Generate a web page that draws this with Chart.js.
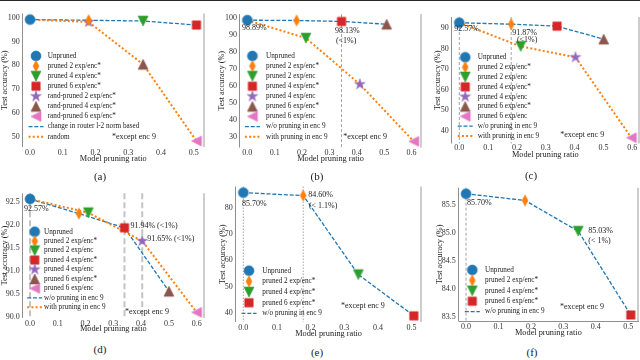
<!DOCTYPE html>
<html>
<head>
<meta charset="utf-8">
<script src="https://cdn.jsdelivr.net/npm/chart.js@4.4.1/dist/chart.umd.min.js"></script>
<style>
  html, body { margin: 0; padding: 0; background: #fff; }
  body { width: 640px; height: 360px; position: relative; overflow: hidden; font-family: "Liberation Serif", serif; }
  canvas { position: absolute; }
  .cap { position: absolute; font-size: 11px; color: #222; transform: translate(-50%, -50%); white-space: nowrap; }
  #topline { position: absolute; left: 0; top: 0; width: 640px; height: 1px; background: #2a2a2a; }
</style>
</head>
<body>
<div id="topline"></div>
<canvas id="pa"></canvas>
<canvas id="pb"></canvas>
<canvas id="pc"></canvas>
<canvas id="pd"></canvas>
<canvas id="pe"></canvas>
<canvas id="pf"></canvas>
<div class="cap" style="left:100px;top:176px">(a)</div>
<div class="cap" style="left:317px;top:176px">(b)</div>
<div class="cap" style="left:531px;top:175px">(c)</div>
<div class="cap" style="left:100px;top:349px">(d)</div>
<div class="cap" style="left:317px;top:352px">(e)</div>
<div class="cap" style="left:532px;top:352px">(f)</div>
<script>
// (a) router-norm pruning vs random pruning
const aRatio = [0, 0.179, 0.345, 0.508];
const aRouterAcc = [99.2, 98.9, 98.6, 96.9];
const aRandAcc = [99.2, 98.2, 80.4, 48.2];
const aXTicks = [0, 0.1, 0.2, 0.3, 0.4, 0.5];
const aYTicks = [50, 60, 70, 80, 90, 100];

// (b)
const bRatioKeep = [0, 0.18, 0.344, 0.509];
const bAccKeep = [98.89, 98.7, 98.13, 96.5];
const bRatioPrune = [0, 0.214, 0.411, 0.608];
const bAccPrune = [98.89, 88.3, 61.0, 27.2];
const bXTicks = [0, 0.1, 0.2, 0.3, 0.4, 0.5, 0.6];
const bYTicks = [30, 40, 50, 60, 70, 80, 90, 100];

// (c)
const cRatioKeep = [0, 0.18, 0.339, 0.501];
const cAccKeep = [92.57, 91.87, 90.9, 84.6];
const cRatioPrune = [0, 0.213, 0.403, 0.597];
const cAccPrune = [92.57, 81.1, 75.8, 36.7];
const cXTicks = [0, 0.1, 0.2, 0.3, 0.4, 0.5, 0.6];
const cYTicks = [40, 50, 60, 70, 80, 90];

// (d)
const dRatioKeep = [0, 0.176, 0.34, 0.50];
const dAccKeep = [92.57, 92.25, 91.94, 90.55];
const dRatioPrune = [0, 0.21, 0.404, 0.60];
const dAccPrune = [92.57, 92.27, 91.65, 90.09];
const dXTicks = [0, 0.1, 0.2, 0.3, 0.4, 0.5, 0.6];
const dYTicks = [90.0, 90.5, 91.0, 91.5, 92.0, 92.5];

// (e)
const eRatio = [0, 0.178, 0.342, 0.507];
const eAcc = [85.70, 84.60, 54.5, 38.8];
const eXTicks = [0, 0.1, 0.2, 0.3, 0.4, 0.5];
const eYTicks = [40, 50, 60, 70, 80];

// (f)
const fRatio = [0, 0.182, 0.346, 0.508];
const fAcc = [85.70, 85.58, 85.03, 83.53];
const fXTicks = [0, 0.1, 0.2, 0.3, 0.4, 0.5];
const fYTicks = [83.5, 84.0, 84.5, 85.0, 85.5];

const FONT = '"Liberation Serif", "Times New Roman", serif';
const C = { blue: '#1f77b4', orange: '#ff7f0e', green: '#2ca02c', red: '#d62728', purple: '#9467bd', brown: '#8c564b', pink: '#e377c2' };
const LS = {
  dash: { color: C.blue, width: 1.3, dash: [4, 1.8] },
  dot: { color: C.orange, width: 2, dash: [2, 2.2] }
};
const VL = {
  thin: { color: '#9a9a9a', width: 0.9, dash: [3, 2] },
  thick: { color: '#c4c4c4', width: 2, dash: [6, 3] },
  dotted: { color: '#9a9a9a', width: 0.9, dash: [1.5, 1.5] }
};

const markerCache = {};
function mk(shape, color) {
  const key = shape + color;
  if (markerCache[key]) return markerCache[key];
  const n = 14, cv = document.createElement('canvas');
  cv.width = n; cv.height = n;
  const g = cv.getContext('2d');
  g.translate(n / 2, n / 2);
  g.fillStyle = color; g.strokeStyle = color; g.lineWidth = 0.6;
  const r = 5;
  g.beginPath();
  if (shape === 'o') g.arc(0, 0, r, 0, 2 * Math.PI);
  else if (shape === 'd') { g.moveTo(0, -r - 0.6); g.lineTo(r * 0.6, 0); g.lineTo(0, r + 0.6); g.lineTo(-r * 0.6, 0); }
  else if (shape === 'v') { g.moveTo(-r, -r); g.lineTo(r, -r); g.lineTo(0, r); }
  else if (shape === '^') { g.moveTo(-r, r); g.lineTo(r, r); g.lineTo(0, -r); }
  else if (shape === '<') { g.moveTo(r, -r); g.lineTo(r, r); g.lineTo(-r, 0); }
  else if (shape === 's') g.rect(-4.2, -4.2, 8.4, 8.4);
  else if (shape === '*') {
    for (let k = 0; k < 10; k++) {
      const rr = k % 2 ? r * 0.42 : r + 0.6;
      const ang = -Math.PI / 2 + k * Math.PI / 5;
      g.lineTo(rr * Math.cos(ang), rr * Math.sin(ang));
    }
  }
  g.closePath(); g.fill(); g.stroke();
  markerCache[key] = cv;
  return cv;
}

function padRange(vals) {
  const lo = Math.min(...vals), hi = Math.max(...vals), m = (hi - lo) * 0.05;
  return [lo - m, hi + m];
}

const decor = {
  id: 'decor',
  beforeDatasetsDraw(chart) {
    const o = chart.options.plugins.decor, a = chart.chartArea, g = chart.ctx, xs = chart.scales.x;
    g.save();
    o.vlines.forEach(v => {
      const st = VL[v.style], px = xs.getPixelForValue(v.x);
      g.strokeStyle = st.color; g.lineWidth = st.width; g.setLineDash(st.dash);
      g.beginPath(); g.moveTo(px, a.top); g.lineTo(px, a.bottom); g.stroke();
    });
    g.setLineDash([]);
    const lx = Math.round(a.left) + 0.5;
    g.strokeStyle = '#8f8f8f'; g.lineWidth = 1;
    g.beginPath(); g.moveTo(lx, a.top); g.lineTo(lx, a.bottom); g.stroke();
    if (o.bottomSpine) {
      const by = Math.round(a.bottom) + 0.5;
      g.beginPath(); g.moveTo(lx, by); g.lineTo(a.right, by); g.stroke();
    }
    g.strokeStyle = '#cdcdcd'; g.lineWidth = 2;
    g.beginPath(); g.moveTo(Math.round(a.right) - 1, a.top); g.lineTo(Math.round(a.right) - 1, a.bottom); g.stroke();
    g.restore();
  },
  afterDatasetsDraw(chart) {
    const o = chart.options.plugins.decor, a = chart.chartArea, g = chart.ctx;
    const xs = chart.scales.x, ys = chart.scales.y, L = o.legend;
    g.save();
    g.textBaseline = 'middle'; g.textAlign = 'left'; g.fillStyle = '#222';
    g.font = '7.2px ' + FONT;
    L.items.forEach((it, i) => {
      const y = a.top + L.y0 + i * L.dy, mx = a.left + L.mx;
      if (it.line) {
        const st = LS[it.line];
        g.strokeStyle = st.color; g.lineWidth = st.width; g.setLineDash(st.dash);
        g.beginPath(); g.moveTo(mx - 7.5, y); g.lineTo(mx + 7.5, y); g.stroke();
        g.setLineDash([]);
      } else {
        const img = mk(it.shape, it.color);
        g.drawImage(img, mx - img.width / 2, y - img.height / 2);
      }
      g.fillText(it.text, a.left + L.tx, y);
    });
    g.font = '8px ' + FONT;
    o.notes.forEach(n => {
      g.fillText(n.text, xs.getPixelForValue(n.x) + (n.dx || 0), ys.getPixelForValue(n.y) + (n.dy || 0));
    });
    g.restore();
  }
};

function makePanel(p) {
  const cv = document.getElementById(p.id);
  cv.width = p.box.w; cv.height = p.box.h;
  cv.style.left = p.box.l + 'px'; cv.style.top = p.box.t + 'px';

  const allX = [], allY = [];
  p.series.forEach(s => { allX.push(...s.x); allY.push(...s.y); });
  const xr = padRange(allX), yr = padRange(allY);

  const datasets = [];
  p.series.forEach((s, si) => {
    const pts = s.x.map((x, i) => ({ x, y: s.y[i] }));
    const st = LS[s.line];
    datasets.push({
      data: pts, showLine: true, borderColor: st.color, borderWidth: st.width, borderDash: st.dash,
      pointRadius: 0, tension: 0, fill: false, order: 10 - si, clip: false
    });
    s.marks.forEach((m, i) => {
      if (!m) return;
      datasets.push({ data: [pts[i]], showLine: false, pointStyle: mk(m[0], m[1]), pointRadius: 5, order: 1 + si, clip: false });
    });
  });

  const tickFont = { family: FONT, size: 8 };
  const titleFont = { family: FONT, size: 8.3 };
  const zeroPad = s => { s.paddingLeft = 0; s.paddingRight = 0; s.paddingTop = 0; s.paddingBottom = 0; };

  new Chart(cv, {
    type: 'scatter',
    data: { datasets },
    plugins: [decor],
    options: {
      responsive: false, animation: false, devicePixelRatio: 1, events: [],
      layout: { autoPadding: false, padding: { left: 0, bottom: 0, top: p.area.t - p.box.t, right: p.box.l + p.box.w - p.area.r } },
      plugins: {
        legend: { display: false }, tooltip: { enabled: false },
        decor: { vlines: p.vlines, legend: p.legend, notes: p.notes, bottomSpine: !!p.bottomSpine }
      },
      scales: {
        x: {
          type: 'linear', min: xr[0], max: xr[1],
          grid: { display: false, drawTicks: false }, border: { display: false },
          ticks: { font: tickFont, color: '#333', padding: p.xTickPad, maxRotation: 0, autoSkip: false, callback: v => v.toFixed(1) },
          afterBuildTicks: s => { s.ticks = p.xTicks.map(v => ({ value: v })); },
          afterFit: s => { s.height = p.box.t + p.box.h - p.area.b; zeroPad(s); },
          title: { display: true, text: 'Model pruning ratio', font: titleFont, color: '#222', padding: 0 }
        },
        y: {
          type: 'linear', min: yr[0], max: yr[1],
          grid: { display: false, drawTicks: false }, border: { display: false },
          ticks: { font: tickFont, color: '#333', padding: 2, autoSkip: false, callback: v => v.toFixed(p.yDec) },
          afterBuildTicks: s => { s.ticks = p.yTicks.map(v => ({ value: v })); },
          afterFit: s => { s.width = p.area.l - p.box.l; zeroPad(s); },
          title: { display: true, text: 'Test accuracy (%)', font: titleFont, color: '#222', padding: { top: p.yTitlePad, bottom: 0 } }
        }
      }
    }
  });
}

const itemsMix = [
  { text: 'Unpruned', shape: 'o', color: C.blue },
  { text: 'pruned 2 exp/enc*', shape: 'd', color: C.orange },
  { text: 'pruned 2 exp/enc', shape: 'v', color: C.green },
  { text: 'pruned 4 exp/enc*', shape: 's', color: C.red },
  { text: 'pruned 4 exp/enc', shape: '*', color: C.purple },
  { text: 'pruned 6 exp/enc*', shape: '^', color: C.brown },
  { text: 'pruned 6 exp/enc', shape: '<', color: C.pink },
  { text: 'w/o pruning in enc 9', line: 'dash' },
  { text: 'with pruning in enc 9', line: 'dot' }
];
const itemsKeep = [
  { text: 'Unpruned', shape: 'o', color: C.blue },
  { text: 'pruned 2 exp/enc*', shape: 'd', color: C.orange },
  { text: 'pruned 4 exp/enc*', shape: 'v', color: C.green },
  { text: 'pruned 6 exp/enc*', shape: 's', color: C.red },
  { text: 'w/o pruning in enc 9', line: 'dash' }
];
const keepMarks = [['o', C.blue], ['d', C.orange], ['s', C.red], ['^', C.brown]];
const pruneMarks = [null, ['v', C.green], ['*', C.purple], ['<', C.pink]];

makePanel({
  id: 'pa', box: { l: 0, t: 0, w: 213, h: 164 }, area: { l: 21.7, t: 13.5, r: 204.8, b: 147.1 },
  yTitlePad: 0, xTickPad: 1, yDec: 0, xTicks: aXTicks, yTicks: aYTicks,
  series: [
    { x: aRatio, y: aRouterAcc, line: 'dash', marks: [['o', C.blue], ['d', C.orange], ['v', C.green], ['s', C.red]] },
    { x: aRatio, y: aRandAcc, line: 'dot', marks: [null, ['*', C.purple], ['^', C.brown], ['<', C.pink]] }
  ],
  vlines: [],
  legend: {
    mx: 14.3, tx: 26, y0: 42.5, dy: 10.08, items: [
      { text: 'Unpruned', shape: 'o', color: C.blue },
      { text: 'pruned 2 exp/enc*', shape: 'd', color: C.orange },
      { text: 'pruned 4 exp/enc*', shape: 'v', color: C.green },
      { text: 'pruned 6 exp/enc*', shape: 's', color: C.red },
      { text: 'rand-pruned 2 exp/enc*', shape: '*', color: C.purple },
      { text: 'rand-pruned 4 exp/enc*', shape: '^', color: C.brown },
      { text: 'rand-pruned 6 exp/enc*', shape: '<', color: C.pink },
      { text: 'change in router l-2 norm based', line: 'dash' },
      { text: 'random', line: 'dot' }
    ]
  },
  notes: [{ x: 0.25, y: 50, text: '*except enc 9' }]
});

makePanel({
  id: 'pb', box: { l: 213, t: 0, w: 212, h: 164 }, area: { l: 239, t: 14.1, r: 422.1, b: 147.5 },
  yTitlePad: 3.7, xTickPad: 1, yDec: 0, xTicks: bXTicks, yTicks: bYTicks,
  series: [
    { x: bRatioKeep, y: bAccKeep, line: 'dash', marks: keepMarks },
    { x: bRatioPrune, y: bAccPrune, line: 'dot', marks: pruneMarks }
  ],
  vlines: [{ x: bRatioKeep[2], style: 'thin' }],
  legend: { mx: 13.4, tx: 27, y0: 41.9, dy: 10.08, items: itemsMix },
  notes: [
    { x: bRatioKeep[0], y: bAccKeep[0], dx: -5.3, dy: 8, text: '98.89%' },
    { x: bRatioKeep[2], y: bAccKeep[2], dx: -6.6, dy: 9, text: '98.13%' },
    { x: bRatioKeep[2], y: bAccKeep[2], dx: -5.6, dy: 19, text: '(<1%)' },
    { x: 0.35, y: 30, text: '*except enc 9' }
  ]
});

makePanel({
  id: 'pc', box: { l: 425, t: 0, w: 215, h: 160 }, area: { l: 450.7, t: 17, r: 640, b: 143.5 },
  yTitlePad: 8.3, xTickPad: 0, yDec: 0, xTicks: cXTicks, yTicks: cYTicks,
  series: [
    { x: cRatioKeep, y: cAccKeep, line: 'dash', marks: keepMarks },
    { x: cRatioPrune, y: cAccPrune, line: 'dot', marks: pruneMarks }
  ],
  vlines: [{ x: cRatioKeep[0], style: 'thin' }, { x: cRatioKeep[1], style: 'thin' }],
  legend: { mx: 14.5, tx: 27, y0: 40.3, dy: 9.84, items: itemsMix },
  notes: [
    { x: cRatioKeep[0], y: cAccKeep[0], dx: -5, dy: 6, text: '92.57%' },
    { x: cRatioKeep[1], y: cAccKeep[1], dx: 1, dy: 9, text: '91.87%' },
    { x: cRatioKeep[1], y: cAccKeep[1], dx: 5.7, dy: 16, text: '(<1%)' },
    { x: 0.35, y: 38.2, text: '*except enc 9' }
  ]
});

makePanel({
  id: 'pd', box: { l: 0, t: 178, w: 213, h: 156 }, area: { l: 21.7, t: 193.3, r: 205, b: 318 },
  yTitlePad: 0, xTickPad: 1, yDec: 1, xTicks: dXTicks, yTicks: dYTicks,
  series: [
    { x: dRatioKeep, y: dAccKeep, line: 'dash', marks: keepMarks },
    { x: dRatioPrune, y: dAccPrune, line: 'dot', marks: pruneMarks }
  ],
  vlines: [{ x: dRatioKeep[0], style: 'thick' }, { x: dRatioKeep[2], style: 'thick' }, { x: dRatioPrune[2], style: 'thick' }],
  legend: { mx: 13, tx: 22.3, y0: 38.4, dy: 9.45, items: itemsMix },
  notes: [
    { x: dRatioKeep[0], y: dAccKeep[0], dx: -6, dy: 10, text: '92.57%' },
    { x: dRatioKeep[2], y: dAccKeep[2], dx: 6, dy: -2, text: '91.94% (<1%)' },
    { x: dRatioPrune[2], y: dAccPrune[2], dx: 5, dy: -2, text: '91.65% (<1%)' },
    { x: 0.342, y: 90.1, text: '*except enc 9' }
  ]
});

makePanel({
  id: 'pe', box: { l: 213, t: 172, w: 212, h: 167 }, area: { l: 234.8, t: 186.5, r: 422.4, b: 322 },
  yTitlePad: 5.3, xTickPad: 1, yDec: 0, xTicks: eXTicks, yTicks: eYTicks,
  series: [
    { x: eRatio, y: eAcc, line: 'dash', marks: [['o', C.blue], ['d', C.orange], ['v', C.green], ['s', C.red]] }
  ],
  vlines: [{ x: eRatio[0], style: 'dotted' }, { x: eRatio[1], style: 'dotted' }],
  legend: { mx: 14.2, tx: 27.5, y0: 84.2, dy: 10.67, items: itemsKeep },
  notes: [
    { x: eRatio[0], y: eAcc[0], dx: -1.3, dy: 11.3, text: '85.70%' },
    { x: eRatio[1], y: eAcc[1], dx: 5, dy: -0.6, text: '84.60%' },
    { x: eRatio[1], y: eAcc[1], dx: 5.7, dy: 10.4, text: '(< 1.1%)' },
    { x: 0.29, y: 42.4, text: '*except enc 9' }
  ]
});

makePanel({
  id: 'pf', box: { l: 425, t: 172, w: 215, h: 166 }, area: { l: 457.8, t: 187.7, r: 639, b: 321 },
  yTitlePad: 10, xTickPad: 1, yDec: 1, xTicks: fXTicks, yTicks: fYTicks, bottomSpine: true,
  series: [
    { x: fRatio, y: fAcc, line: 'dash', marks: [['o', C.blue], ['d', C.orange], ['v', C.green], ['s', C.red]] }
  ],
  vlines: [{ x: fRatio[0], style: 'thin' }],
  legend: { mx: 14.5, tx: 27.2, y0: 82.3, dy: 10.4, items: itemsKeep },
  notes: [
    { x: fRatio[0], y: fAcc[0], dx: 1, dy: 9, text: '85.70%' },
    { x: fRatio[2], y: fAcc[2], dx: 10, dy: 0, text: '85.03%' },
    { x: fRatio[2], y: fAcc[2], dx: 10, dy: 9.5, text: '(< 1%)' },
    { x: 0.29, y: 83.67, text: '*except enc 9' }
  ]
});
</script>
</body>
</html>
